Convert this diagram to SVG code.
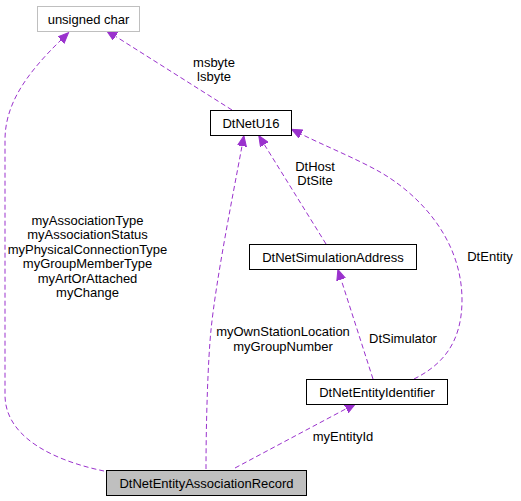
<svg xmlns="http://www.w3.org/2000/svg" width="521" height="501" viewBox="0 0 521 501">
<defs>
<style>
text{font-family:"Liberation Sans",Arial,sans-serif;font-size:13px;fill:#000;text-anchor:middle}
.box{fill:#fff;stroke:#000;stroke-width:1}
.grey{stroke:#bfbfbf}
.cur{fill:#bfbfbf}
.edge{fill:none;stroke:#9a32cd;stroke-width:1;stroke-dasharray:5,3}
</style>
<marker id="ah" markerUnits="userSpaceOnUse" markerWidth="12" markerHeight="10" refX="0" refY="5" orient="auto" viewBox="0 0 12 10">
<path d="M0,0.5 L10.5,5 L0,9.5 z" fill="#9a32cd" stroke="#9a32cd" stroke-width="1"/>
</marker>
</defs>
<rect width="521" height="501" fill="#fff"/>
<g id="connectors">
<path class="edge" marker-end="url(#ah)" d="M104,471 C60,462 5,440 5,395 L5,140 C5,105 25,75 61,40"/>
<path class="edge" marker-end="url(#ah)" d="M232,110 L115.5,36.3"/>
<path class="edge" marker-end="url(#ah)" d="M206,469 C206,420 208,360 211,330 C216,280 232,200 242,146"/>
<path class="edge" marker-end="url(#ah)" d="M326,244 L264.3,144.5"/>
<path class="edge" marker-end="url(#ah)" d="M373,379 L341.1,279.5"/>
<path class="edge" marker-end="url(#ah)" d="M414,379 C440,366 462,345 462,300 C462,240 420,195 380,172 C355,158 325,146 301,134"/>
<path class="edge" marker-end="url(#ah)" d="M235,468 L346.2,408.7"/>
<text x="87.5" y="224.5">myAssociationType</text>
<text x="87.5" y="239">myAssociationStatus</text>
<text x="87.5" y="253.5">myPhysicalConnectionType</text>
<text x="87.5" y="268">myGroupMemberType</text>
<text x="87.5" y="282.5">myArtOrAttached</text>
<text x="87.5" y="297">myChange</text>
<text x="214" y="66.5">msbyte</text>
<text x="214" y="80.5">lsbyte</text>
<text x="315" y="171">DtHost</text>
<text x="315" y="185">DtSite</text>
<text x="283" y="336">myOwnStationLocation</text>
<text x="283" y="351">myGroupNumber</text>
<text x="403" y="342.5">DtSimulator</text>
<text x="490" y="261">DtEntity</text>
<text x="343" y="441">myEntityId</text>
</g>
<g id="unsigned_char">
<rect class="box grey" x="37.5" y="6.5" width="102" height="25"/>
<text x="88.5" y="23.5">unsigned char</text>
</g>
<g id="DtNetU16">
<rect class="box" x="210.5" y="110.5" width="81" height="25"/>
<text x="251" y="127.5">DtNetU16</text>
</g>
<g id="DtNetSimulationAddress">
<rect class="box" x="249.5" y="244.5" width="167" height="25"/>
<text x="333" y="261.5">DtNetSimulationAddress</text>
</g>
<g id="DtNetEntityIdentifier">
<rect class="box" x="306.5" y="379.5" width="141" height="25"/>
<text x="377" y="396.5">DtNetEntityIdentifier</text>
</g>
<g id="DtNetEntityAssociationRecord">
<rect class="box cur" x="106.5" y="470.5" width="200" height="25"/>
<text x="206.5" y="487.5">DtNetEntityAssociationRecord</text>
</g>
</svg>
